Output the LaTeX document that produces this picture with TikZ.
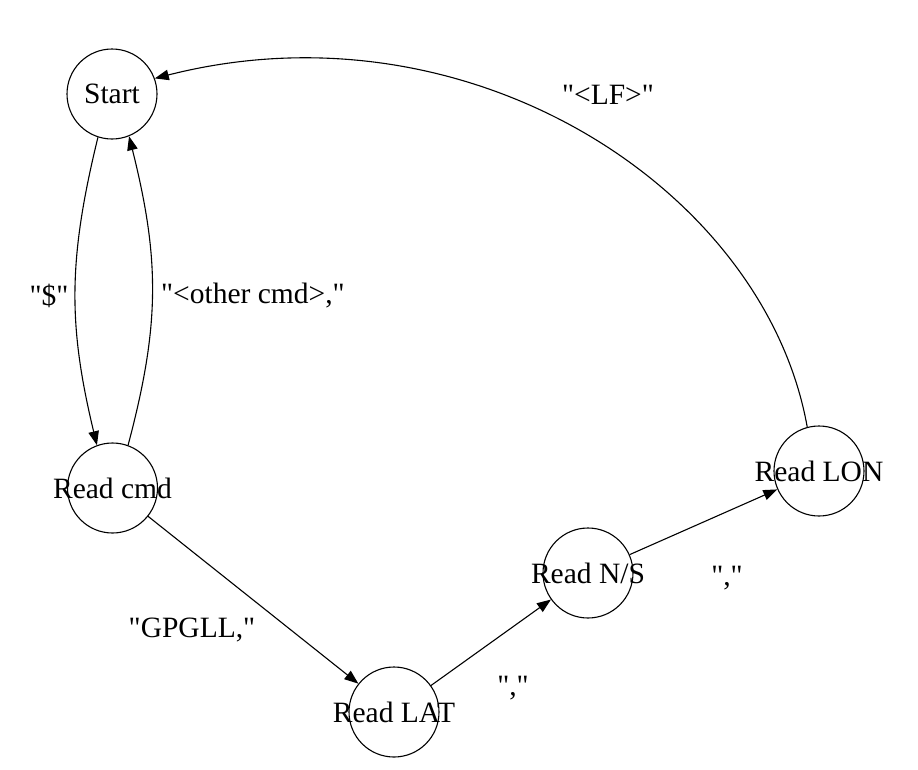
\documentclass[tikz,border=0pt]{standalone}
\usepackage{fontspec}
\setmainfont{Liberation Serif}[Ligatures=TeXOff]
\newfontfamily\tms{Liberation Serif}[Ligatures=TeXOff]
\usetikzlibrary{arrows.meta}
\begin{document}
\begin{tikzpicture}[x=1pt,y=-1pt,
  state/.style={draw,circle,minimum size=90pt,inner sep=0pt,line width=1.1pt,
    font=\tms\fontsize{29.5}{34}\selectfont},
  lbl/.style={inner sep=0pt,font=\tms\fontsize{29.5}{34}\selectfont},
  edge/.style={line width=1.1pt,-{Triangle[length=14pt,width=10.5pt]}}]
\useasboundingbox (0,0) rectangle (918,769);
\node[state] (start) at (112,94) {\makebox[0pt]{Start}};
\node[state] (cmd) at (112.5,488) {\makebox[0pt]{Read cmd}};
\node[state] (lat) at (394,712) {\makebox[0pt]{Read LAT}};
\node[state] (ns) at (588,573) {\makebox[0pt]{Read N/S}};
\node[state] (lon) at (819,471) {\makebox[0pt]{Read LON}};

\draw[edge] (start.252) .. controls (68,260) and (68,325) .. (cmd.110);
\draw[edge] (cmd.70) .. controls (160,325) and (160,260) .. (start.292);
\draw[edge] (cmd) -- (lat);
\draw[edge] (lat) -- (ns);
\draw[edge] (ns) -- (lon);
\draw[edge] (lon.105) .. controls (765,190) and (470,-2) .. (start.20);

\node[lbl] (l1) at (49,296) {"\$"};
\node[lbl,anchor=west] (l2) at (161,296) {"<other cmd>,"};
\node[lbl] (l3) at (192,630) {"GPGLL,"};
\node[lbl] (l4) at (513,688) {","};
\node[lbl] (l5) at (727,578) {","};
\node[lbl] (l6) at (608,95) {"<LF>"};
\end{tikzpicture}
\end{document}
